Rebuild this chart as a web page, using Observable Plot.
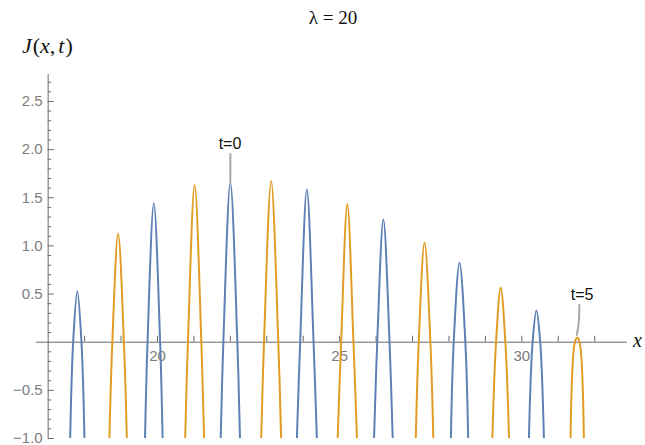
<!DOCTYPE html>
<html><head><meta charset="utf-8">
<script src="https://cdn.jsdelivr.net/npm/d3@7"></script>
<script src="https://cdn.jsdelivr.net/npm/@observablehq/plot@0.6"></script>
<style>
body{margin:0;background:#fff}
#chart{width:645px;height:445px;overflow:hidden;position:relative}
#chart svg{display:block}
</style>
</head><body><div id="chart"></div>
<script>
// Blue arcs: centre x, peak value, half-width at J=0 and at J=-1
const blueCenter = [17.80, 19.90, 22.00, 24.10, 26.20, 28.29, 30.40];
const bluePeak = [0.53, 1.44, 1.655, 1.585, 1.275, 0.825, 0.33];
const blueHalfAtZero = [0.114, 0.173, 0.192, 0.184, 0.169, 0.160, 0.105];
const blueHalfAtBottom = [0.196, 0.241, 0.265, 0.274, 0.256, 0.237, 0.206];
// Orange arcs
const orangeCenter = [18.92, 21.02, 23.12, 25.21, 27.33, 29.42, 31.52];
const orangePeak = [1.125, 1.635, 1.675, 1.435, 1.035, 0.565, 0.045];
const orangeHalfAtZero = [0.159, 0.184, 0.196, 0.169, 0.160, 0.128, 0.064];
const orangeHalfAtBottom = [0.239, 0.260, 0.274, 0.265, 0.241, 0.229, 0.182];

// Axis ticks
const xMajorTicks = [20, 25, 30];
const xTickLabels = ["20", "25", "30"];
const xMinorTicks = [18, 19, 21, 22, 23, 24, 26, 27, 28, 29, 31, 32];
const yMajorTicks = [-1, -0.5, 0.5, 1, 1.5, 2, 2.5];
const yTickLabels = ["\u22121.0", "\u22120.5", "0.5", "1.0", "1.5", "2.0", "2.5"];
const yMinorTicks = d3.range(-10, 28).filter(i => i % 5 !== 0).map(i => i / 10);

// Annotations
const noteText = ["t=0", "t=5"];
const noteX = [21.99, 31.655];
const noteY = [2.064, 0.494];
const leaderId = ["a", "a", "b", "b", "b"];
const leaderX = [22.0, 22.0, 31.577, 31.563, 31.508];
const leaderY = [1.954, 1.665, 0.387, 0.209, 0.075];

const seriesNames = ["series1", "series2"];
const seriesColors = ["#5E81B5", "#E19C24"];

const rows = [];
function addArcs(series, c, p, h0, hb) {
  c.forEach((cx, i) => {
    const id = series + i;
    rows.push({id, series, x: cx - hb[i], y: -1});
    rows.push({id, series, x: cx - h0[i], y: 0});
    rows.push({id, series, x: cx, y: p[i]});
    rows.push({id, series, x: cx + h0[i], y: 0});
    rows.push({id, series, x: cx + hb[i], y: -1});
  });
}
addArcs(seriesNames[0], blueCenter, bluePeak, blueHalfAtZero, blueHalfAtBottom);
addArcs(seriesNames[1], orangeCenter, orangePeak, orangeHalfAtZero, orangeHalfAtBottom);

const leaders = leaderX.map((x, i) => ({id: leaderId[i], x, y: leaderY[i]}));
const notes = noteText.map((t, i) => ({t, x: noteX[i], y: noteY[i]}));

const axisColor = "#6a6a6a";
const labelColor = "#7d7d7d";
const sans = "Liberation Sans, Arial, sans-serif";

const svg = Plot.plot({
  width: 645,
  height: 445,
  marginLeft: 36,
  marginRight: 18,
  marginTop: 74,
  marginBottom: 7,
  style: {background: "#fff", overflow: "hidden"},
  x: {domain: [16.68, 32.9], axis: null},
  y: {domain: [-1, 2.78], axis: null},
  color: {domain: seriesNames, range: seriesColors},
  marks: [
    Plot.ruleY([0], {stroke: axisColor, strokeWidth: 1}),
    Plot.ruleX([17], {stroke: axisColor, strokeWidth: 1}),
    Plot.ruleX(xMajorTicks.concat(xMinorTicks), {x: d => d, y1: 0, y2: 0, insetTop: -6, insetBottom: 0, stroke: axisColor}),
    Plot.ruleY(yMajorTicks, {y: d => d, x1: 17, x2: 17, insetLeft: 0, insetRight: -6, stroke: axisColor}),
    Plot.ruleY(yMinorTicks, {y: d => d, x1: 17, x2: 17, insetLeft: 0, insetRight: -3.5, stroke: axisColor}),
    Plot.text(xMajorTicks, {x: d => d, y: 0, text: (d, i) => xTickLabels[i], dy: 14, fill: labelColor, fontSize: 15, fontFamily: sans}),
    Plot.text(yMajorTicks, {x: 17, y: d => d, text: (d, i) => yTickLabels[i], dx: -5.5, textAnchor: "end", fill: labelColor, fontSize: 15, fontFamily: sans}),
    Plot.line(rows, {x: "x", y: "y", z: "id", stroke: "series", curve: "catmull-rom", strokeWidth: 2, clip: true}),
    Plot.line(leaders, {x: "x", y: "y", z: "id", stroke: "#a8a8a8", strokeWidth: 2, curve: "catmull-rom"}),
    Plot.text(notes, {x: "x", y: "y", text: "t", fill: "#111", fontSize: 16, fontFamily: sans})
  ]
});

const s = d3.select(svg);
const serif = "Liberation Serif, Times New Roman, serif";
s.append("text").attr("x", 333).attr("y", 24).attr("text-anchor", "middle")
  .attr("font-family", serif).attr("font-size", 19).attr("fill", "#111")
  .text("\u03bb = 20");
const jl = s.append("text").attr("x", 22).attr("y", 53).attr("text-anchor", "start")
  .attr("font-family", serif).attr("font-size", 22).attr("fill", "#111");
jl.append("tspan").attr("font-style", "italic").text("J");
jl.append("tspan").attr("dx", 1).text("(");
jl.append("tspan").attr("font-style", "italic").text("x");
jl.append("tspan").text(",");
jl.append("tspan").attr("font-style", "italic").attr("dx", 3).text("t");
jl.append("tspan").attr("dx", 1).text(")");
s.append("text").attr("x", 633).attr("y", 347).attr("text-anchor", "start")
  .attr("font-family", serif).attr("font-style", "italic").attr("font-size", 20).attr("fill", "#111")
  .text("x");

document.getElementById("chart").appendChild(svg);
</script>
</body></html>
